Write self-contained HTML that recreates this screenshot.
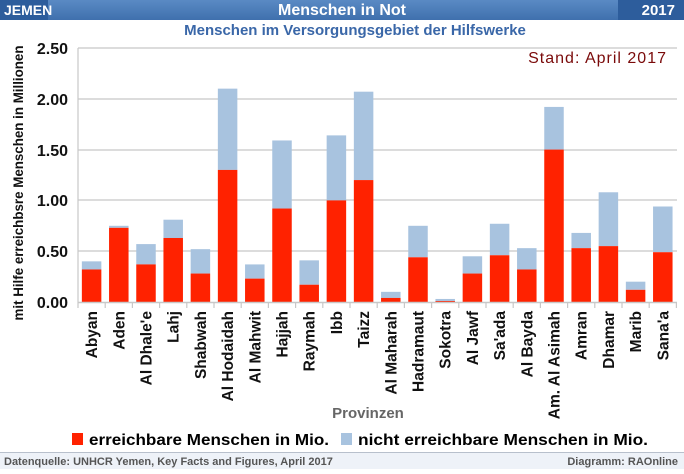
<!DOCTYPE html>
<html><head><meta charset="utf-8"><style>
body{margin:0;width:684px;height:469px;overflow:hidden;background:#fff;font-family:"Liberation Sans",sans-serif}
</style></head><body>
<svg width="684" height="469" xmlns="http://www.w3.org/2000/svg" font-family="Liberation Sans, sans-serif">
<defs><linearGradient id="hg" x1="0" y1="0" x2="0" y2="1"><stop offset="0" stop-color="#5a8ac4"/><stop offset="1" stop-color="#3f70ad"/></linearGradient></defs>
<rect x="0" y="0" width="684" height="20" fill="url(#hg)"/>
<rect x="0" y="0" width="48" height="20" fill="#2d5d9c"/>
<rect x="618" y="0" width="66" height="20" fill="#2d5d9c"/>
<text x="4" y="15" font-size="14" font-weight="bold" fill="#fff">JEMEN</text>
<text x="342" y="15" font-size="16" font-weight="bold" fill="#fff" text-anchor="middle">Menschen in Not</text>
<text x="675" y="15" font-size="15" font-weight="bold" fill="#fff" text-anchor="end">2017</text>
<text x="355" y="35" font-size="15" font-weight="bold" fill="#3a67a8" text-anchor="middle">Menschen im Versorgungsgebiet der Hilfswerke</text>
<text x="667" y="63" font-size="16" fill="#7a0a0a" text-anchor="end" letter-spacing="1">Stand: April 2017</text>
<g stroke="#c8c8c8" stroke-width="1.2">
<line x1="78" y1="48" x2="677" y2="48"/><line x1="78" y1="99" x2="677" y2="99"/><line x1="78" y1="150" x2="677" y2="150"/><line x1="78" y1="200" x2="677" y2="200"/><line x1="78" y1="251" x2="677" y2="251"/>
<line x1="78" y1="48" x2="78" y2="302"/>
</g>
<g font-size="16" font-weight="bold" fill="#111" text-anchor="end">
<text x="68" y="54">2.50</text><text x="68" y="105">2.00</text><text x="68" y="156">1.50</text><text x="68" y="206">1.00</text><text x="68" y="257">0.50</text><text x="68" y="308">0.00</text>
</g>
<text transform="translate(23,183) rotate(-90)" font-size="13.5" font-weight="bold" fill="#111" text-anchor="middle" textLength="275" lengthAdjust="spacingAndGlyphs">mit Hilfe erreichbsre Menschen  in Millionen</text>
<g id="bars"></g>
<line x1="78" y1="302.5" x2="677" y2="302.5" stroke="#c8c8c8" stroke-width="1.5"/>
<g id="ticks" stroke="#c8c8c8" stroke-width="1.2"></g>
<g id="labels" font-size="15.5" font-weight="bold" fill="#111" text-anchor="end"></g>
<text x="368" y="418" font-size="15" font-weight="bold" fill="#666" text-anchor="middle">Provinzen</text>
<rect x="72" y="433" width="11" height="12" fill="#ff2200"/>
<text x="89" y="445" font-size="16" font-weight="bold" fill="#000" textLength="240" lengthAdjust="spacingAndGlyphs">erreichbare Menschen in Mio.</text>
<rect x="341" y="433" width="11" height="12" fill="#a8c3df"/>
<text x="358" y="445" font-size="16" font-weight="bold" fill="#000" textLength="290" lengthAdjust="spacingAndGlyphs">nicht erreichbare Menschen in Mio.</text>
<rect x="0" y="452" width="684" height="17" fill="#eef2f8"/>
<line x1="0" y1="452.5" x2="684" y2="452.5" stroke="#b8c0cc"/>
<text x="4" y="465" font-size="11" font-weight="bold" fill="#555">Datenquelle: UNHCR Yemen, Key Facts and Figures, April 2017</text>
<text x="678" y="465" font-size="11" font-weight="bold" fill="#555" text-anchor="end">Diagramm: RAOnline</text>
</svg>
<script>
var d=[["Abyan",.32,.40],["Aden",.73,.75],["Al Dhale'e",.37,.57],["Lahj",.63,.81],["Shabwah",.28,.52],["Al Hodaidah",1.30,2.10],["Al Mahwit",.23,.37],["Hajjah",.92,1.59],["Raymah",.17,.41],["Ibb",1.00,1.64],["Taizz",1.20,2.07],["Al Maharah",.04,.10],["Hadramaut",.44,.75],["Sokotra",.01,.03],["Al Jawf",.28,.45],["Sa'ada",.46,.77],["Al Bayda",.32,.53],["Am. Al Asimah",1.50,1.92],["Amran",.53,.68],["Dhamar",.55,1.08],["Marib",.12,.20],["Sana'a",.49,.94]];
var ns="http://www.w3.org/2000/svg",x0=78,w=27.2,y0=302,s=101.6;
function el(p,t,a,tx){var e=document.createElementNS(ns,t);for(var k in a)e.setAttribute(k,a[k]);if(tx)e.textContent=tx;document.getElementById(p).appendChild(e);}
d.forEach(function(r,i){var cx=x0+w*i+w/2,bw=19.5;
el("bars","rect",{x:cx-bw/2,y:y0-r[2]*s,width:bw,height:(r[2]-r[1])*s,fill:"#a8c3df"});
el("bars","rect",{x:cx-bw/2,y:y0-r[1]*s,width:bw,height:r[1]*s,fill:"#ff2200"});
el("ticks","line",{x1:x0+w*i,y1:302,x2:x0+w*i,y2:308});
el("labels","text",{transform:"translate("+(cx+5.5)+",311) rotate(-90)"},r[0]);});
el("ticks","line",{x1:x0+w*22,y1:302,x2:x0+w*22,y2:308});
</script>
</body></html>
